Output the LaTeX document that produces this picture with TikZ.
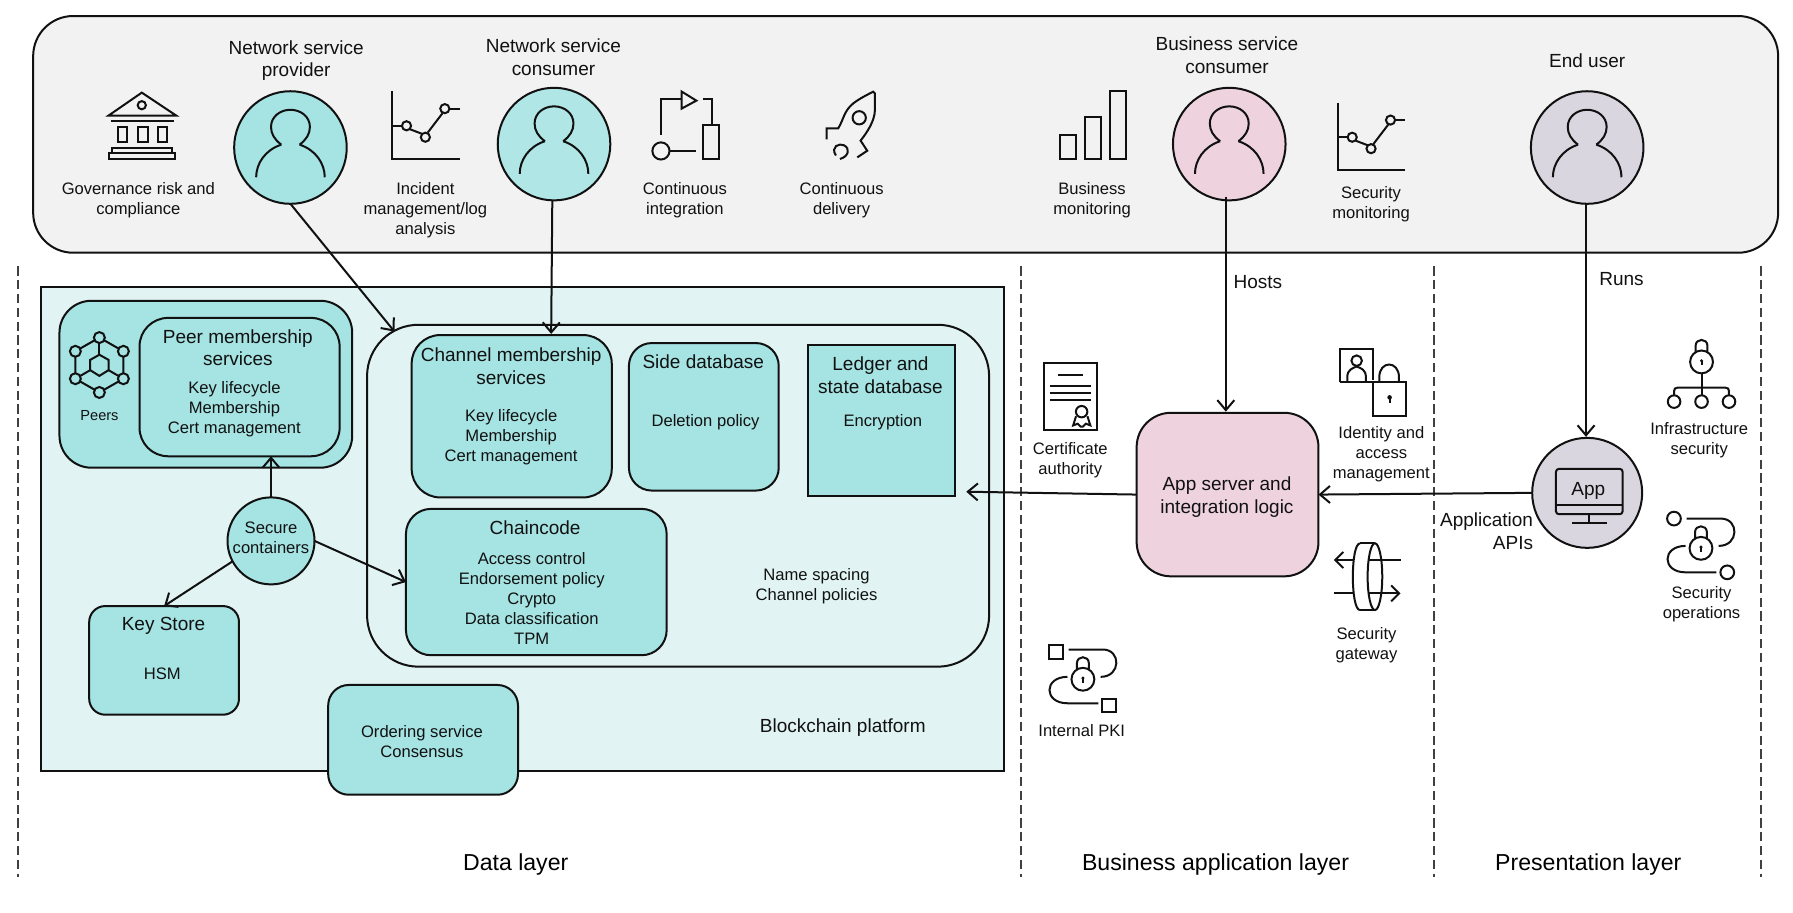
\documentclass[tikz,border=0pt]{standalone}
\usepackage{fontspec}
\setmainfont{Liberation Sans}
\usetikzlibrary{arrows.meta}
\definecolor{tealbox}{HTML}{A6E3E3}
\definecolor{tealmid}{HTML}{B0E6E6}
\definecolor{teallight}{HTML}{E1F4F3}
\definecolor{pinkbox}{HTML}{EED3DE}
\definecolor{mixbox}{HTML}{DAD6E0}
\definecolor{panelgray}{HTML}{F2F2F2}
\definecolor{inkc}{HTML}{111111}
\newcommand{\bx}[7]{%
  \pgfmathsetmacro\bcx{(#2+#4)/2}\pgfmathsetmacro\bcy{(#3+#5)/2}%
  \pgfmathsetmacro\bw{(#4-#2)*0.5718}\pgfmathsetmacro\bh{(#5-#3)*0.5718}%
  \pgfmathsetmacro\br{#6*0.5718}%
  \node[draw=inkc,line width=1pt,inner sep=0pt,outer sep=0pt,minimum width=\bw pt,minimum height=\bh pt,rounded corners=\br pt,#7] (#1) at (\bcx,\bcy) {};}
\newcommand{\personicon}[2]{%
  \begin{scope}[shift={(#1,#2)},icon]
    \draw (-8,-2.5) .. controls (-14,-7) and (-17,-12) .. (-17,-18) .. controls (-17,-27) and (-9,-33) .. (0,-33) .. controls (9,-33) and (17,-27) .. (17,-18) .. controls (17,-12) and (14,-7) .. (8,-2.5);
    \draw (8,-2.5) .. controls (22,2) and (30,14) .. (30,26);
    \draw (-8,-2.5) .. controls (-22,2) and (-30,14) .. (-30,26);
  \end{scope}}
\newcommand{\lockicon}[2]{%
  \begin{scope}[shift={(#1,#2)},icon]
    \draw (0,0) circle[radius=10];
    \draw (-5.2,-8.5) -- (-5.2,-14) .. controls (-5.2,-21) and (5.2,-21) .. (5.2,-14) -- (5.2,-8.5);
    \fill[inkc] (0,-1) circle[radius=1.5];
    \draw (0,-1) -- (0,3);
  \end{scope}}
\newcommand{\charticon}[2]{%
  \begin{scope}[shift={(#1,#2)},icon]
    \draw (343,80) -- (343,139) -- (402,139);
    \draw (343,110) -- (351.5,110);
    \draw (358.5,113) -- (369,117);
    \draw (374,116) -- (387,99);
    \draw (393,95) -- (402,95);
    \draw (355.5,110) circle[radius=4];
    \draw (372,120) circle[radius=4];
    \draw (389,95) circle[radius=4];
  \end{scope}}
\newcommand{\routeicon}[2]{%
  \begin{scope}[shift={(#1,#2)},icon]
    \draw (1475,453.5) -- (1505,453.5) .. controls (1521,453.5) and (1521,477.4) .. (1503,477.4);
    \draw (1474,477.4) .. controls (1453,477.4) and (1453,500.5) .. (1474,500.5) -- (1501,500.5);
  \end{scope}}
\tikzset{
  icon/.style={draw=inkc,line width=1pt},
  arr/.style={draw=inkc,line width=1pt,-{Straight Barb[length=5pt,width=8.5pt,line width=1pt]}},
  dashline/.style={draw=black!75,line width=1.1pt,dash pattern=on 4.6pt off 2.3pt},
  small/.style={align=center,inner sep=0pt,text=inkc,font=\fontsize{8.3}{10}\selectfont},
  big/.style={align=center,inner sep=0pt,text=inkc,font=\fontsize{9.5}{11.4}\selectfont},
  layer/.style={align=center,inner sep=0pt,text=black,font=\fontsize{11.55}{13}\selectfont},
  roundc/.style={circle,draw=inkc,line width=1pt,inner sep=0pt,outer sep=0pt,minimum size=56.3pt}
}
\begin{document}
\begin{tikzpicture}[x=0.5718pt,y=-0.5718pt]
\useasboundingbox (0,0) rectangle (1568,798);
% top panel
\bx{panel}{29}{14}{1555}{221}{35}{fill=panelgray}
% dashed
\coordinate (d1a) at (16,233); \coordinate (d1b) at (16,767);
\coordinate (d2a) at (893,233); \coordinate (d2b) at (893,767);
\coordinate (d3a) at (1254,233); \coordinate (d3b) at (1254,767);
\coordinate (d4a) at (1540,233); \coordinate (d4b) at (1540,767);
\draw[dashline] (d1a) -- (d1b);
\draw[dashline] (d2a) -- (d2b);
\draw[dashline] (d3a) -- (d3b);
\draw[dashline] (d4a) -- (d4b);
% persons
\node[roundc,fill=tealbox] (nsp) at (254,129) {};
\node[roundc,fill=tealmid] (nsc) at (484.5,126) {};
\node[roundc,fill=pinkbox] (bsc) at (1075,126) {};
\node[roundc,fill=mixbox] (eu) at (1388,129) {};
\personicon{254}{129}
\personicon{484.5}{126}
\personicon{1075}{126}
\personicon{1388}{129}
% platform
\bx{platform}{36}{251}{878}{674}{0}{fill=teallight}
\bx{peers}{52}{263}{308}{409}{28}{fill=tealbox}
\bx{peerms}{122}{278}{297}{399}{25}{fill=tealbox}
\bx{bigbox}{321}{284}{865}{583}{45}{fill=teallight}
\bx{channel}{360}{293}{535}{435}{25}{fill=tealbox}
\bx{sidedb}{550}{300}{681}{429}{20}{fill=tealbox}
\bx{ledger}{707}{302}{835}{434}{0}{fill=tealbox}
\bx{chaincode}{355}{445}{583}{573}{22}{fill=tealbox}
\bx{keystore}{78}{530}{209}{625}{14}{fill=tealbox}
\bx{ordering}{287}{599}{453}{695}{18}{fill=tealbox}
\node[roundc,fill=tealbox,minimum size=43.5pt] (sec) at (237,473) {};
\bx{appsrv}{994}{361}{1153}{504}{30}{fill=pinkbox}
\node[roundc,fill=mixbox,minimum size=55pt] (appc) at (1388,431) {};
% connectors
\coordinate (nspend) at (345,290);
\coordinate (nscend) at (482,292);
\coordinate (ledgerend) at (845,430);
\coordinate (bscend) at (1072,360);
\coordinate (euend) at (1387,382);
\coordinate (bscstart) at (1072,172);
\coordinate (eustart) at (1387,178);
\coordinate (nscstart) at (483,175);
\draw[arr] (nsp.south) -- (nspend);
\draw[arr] (nscstart) -- (nscend);
\draw[arr] (bscstart) -- (bscend);
\draw[arr] (eustart) -- (euend);
\draw[arr] (appc.west) -- (appsrv.east);
\draw[arr] (appsrv.west) -- (ledgerend);
\draw[arr] (sec.north) -- (peerms.south -| sec.north);
\draw[arr] (sec.208) -- (keystore.north);
\draw[arr] (sec.east) -- (chaincode.west);
% bank icon
\begin{scope}[icon]
  \draw (95,101) -- (124,81) -- (154,101) -- cycle;
  \draw (124,92) circle[radius=3.6];
  \draw (97,105.5) -- (152,105.5);
  \draw (103,111) rectangle (111,124.5);
  \draw (121,111) rectangle (129,124.5);
  \draw (138,111) rectangle (146,124.5);
  \draw (98,129) rectangle (150,134);
  \draw (95,134) rectangle (153,139);
\end{scope}
\charticon{0}{0}
\charticon{827}{10}
% CI icon
\begin{scope}[icon]
  \draw (578,118) -- (578,87) -- (596,87);
  \draw (596,80) -- (609,88) -- (596,95) -- cycle;
  \draw (614.6,87) -- (622.6,87) -- (622.6,109.5);
  \draw (614.6,109.5) rectangle (629,139);
  \draw (578,132) circle[radius=7.5];
  \draw (585.6,132) -- (609,132);
\end{scope}
% rocket
\begin{scope}[icon]
  \draw (722.9,121.9) -- (722.9,112.3) -- (733,112.3) .. controls (738,104) and (738,97) .. (746.2,90.4) .. controls (752,86) and (758,83) .. (763.7,80.2) -- (765.1,81.7) -- (765.1,96.2) .. controls (765,106) and (758,116) .. (752.6,123) -- (758.4,131.8) -- (749.7,137.6);
  \draw (751.4,103) circle[radius=5.8];
  \draw (731,136) .. controls (726,128) and (734,125) .. (738,127) .. controls (744,130) and (742,137) .. (734.5,139);
\end{scope}
% bars
\begin{scope}[icon]
  \draw (927,118) rectangle (941,139);
  \draw (949,102) rectangle (963,139);
  \draw (971,80) rectangle (985,139);
\end{scope}
% peers icon
\begin{scope}[shift={(86.9,319.2)},icon]
  \draw (0,-24) -- (-21,-12) -- (-21,12) -- (0,24) -- (21,12) -- (21,-12) -- cycle;
  \draw (0,-9) -- (-8,-4.5) -- (-8,4.5) -- (0,9.5) -- (8,4.5) -- (8,-4.5) -- cycle;
  \draw (0,-24) -- (0,-9);
  \draw (-8,4.5) -- (-21,12);
  \draw (8,4.5) -- (21,12);
  \foreach \px/\py in {0/-24,-21/-12,21/-12,-21/12,21/12,0/24}
    \draw[fill=tealbox] (\px,\py) circle[radius=4.8];
\end{scope}
% certificate
\begin{scope}[icon]
  \draw (912.7,317.8) rectangle (959,376);
  \draw (925.5,328.2) -- (946.7,328.2);
  \draw (918,337.3) -- (953.7,337.3);
  \draw (918,343.4) -- (953.7,343.4);
  \draw (918,349.5) -- (953.7,349.5);
  \draw (945.9,360) circle[radius=5];
  \draw (941,364) -- (938.5,372) -- (942.5,370.5) -- (945,373) -- (947,373) -- (949.5,370.5) -- (953.5,372) -- (951,364);
\end{scope}
% identity
\begin{scope}[icon]
  \draw (1171.8,334.4) -- (1171.8,305.2) -- (1201,305.2) -- (1201,332);
  \draw (1171.8,334.4) -- (1229.5,334.4) -- (1229.5,363.5) -- (1200.6,363.5) -- (1200.6,334.4);
  \draw (1206.2,334.4) -- (1206.2,330) .. controls (1206.2,315) and (1223.4,315) .. (1223.4,330) -- (1223.4,334.4);
  \draw (1186.4,315.4) circle[radius=4.6];
  \draw (1178.2,334.4) -- (1178.2,330) .. controls (1178.2,323) and (1183,322) .. (1186.4,320.5) .. controls (1190,322) and (1194.5,323) .. (1194.5,330) -- (1194.5,334.4);
  \fill[inkc] (1215.2,347.5) circle[radius=2];
  \draw (1215.2,347.5) -- (1215.2,352.5);
\end{scope}
% gateway
\begin{scope}[icon]
  \draw (1189.3,475.2) -- (1202.4,475.2);
  \draw (1189.3,533.5) -- (1202.4,533.5);
  \draw (1202.4,504.3) ellipse[x radius=6.4,y radius=29.2];
  \draw (1189.3,475.2) .. controls (1181,475.2) and (1181,533.5) .. (1189.3,533.5);
  \draw (1224.8,489.7) -- (1196.6,489.7);
  \draw[-{Straight Barb[length=4pt,width=8pt]}] (1182.9,489.7) -- (1166.5,489.7);
  \draw (1166.5,518.9) -- (1182.9,518.9);
  \draw[-{Straight Barb[length=4pt,width=8pt]}] (1196.6,518.9) -- (1224.8,518.9);
\end{scope}
% internal pki
\begin{scope}[icon]
  \draw (917,564) rectangle (930,576);
  \draw (964,611) rectangle (976,623);
\end{scope}
\routeicon{-540.5}{114.5}
\lockicon{947}{594}
% infrastructure security
\lockicon{1488}{316.5}
\begin{scope}[icon]
  \draw (1488,327) -- (1488,345.5);
  \draw (1464,345.5) -- (1464,342) .. controls (1464,340) and (1465,339) .. (1467,339) -- (1509,339) .. controls (1511,339) and (1512,340) .. (1512,342) -- (1512,345.5);
  \draw (1464,351.2) circle[radius=5.5];
  \draw (1488,351.2) circle[radius=5.5];
  \draw (1512,351.2) circle[radius=5.5];
\end{scope}
% security ops
\begin{scope}[icon]
  \draw (1463.9,453.5) circle[radius=6];
  \draw (1510.5,500.5) circle[radius=6];
\end{scope}
\routeicon{0}{0}
\lockicon{1487.5}{479.5}
% monitor
\begin{scope}[icon]
  \draw[rounded corners=1.5pt] (1360.7,410) rectangle (1419,449.7);
  \draw (1360.7,441.6) -- (1419,441.6);
  \draw (1389.8,449.7) -- (1389.8,457.6);
  \draw (1375,457.6) -- (1405,457.6);
\end{scope}
% labels
\node[big] (t1) at (259,53) {Network service\\provider};
\node[big] (t2) at (484,50) {Network service\\consumer};
\node[big] (t3) at (1073,48) {Business service\\consumer};
\node[big] (t4) at (1388,53) {End user};
\node[small] (t5) at (121,175) {Governance risk and\\compliance};
\node[small] (t6) at (372,184) {Incident\\management/log\\analysis};
\node[small] (t7) at (599,175) {Continuous\\integration};
\node[small] (t8) at (736,175) {Continuous\\delivery};
\node[small] (t9) at (955,175) {Business\\monitoring};
\node[small] (t10) at (1199,179) {Security\\monitoring};
\node[big] (t11) at (1100,247) {Hosts};
\node[big] (t12) at (1418,244) {Runs};
\node[small,font=\fontsize{7.3}{9}\selectfont] (t13) at (87,363) {Peers};
\node[big] (t14) at (208,304) {Peer membership\\services};
\node[small] (t15) at (205,358) {Key lifecycle\\Membership\\Cert management};
\node[big] (t16) at (447,320) {Channel membership\\services};
\node[small] (t17) at (447,382.5) {Key lifecycle\\Membership\\Cert management};
\node[big] (t18) at (615,316) {Side database};
\node[small] (t19) at (617,369) {Deletion policy};
\node[big] (t20) at (770,328) {Ledger and\\state database};
\node[small] (t21) at (772,369) {Encryption};
\node[big] (t22) at (468,461.5) {Chaincode};
\node[small] (t23) at (465,523.5) {Access control\\Endorsement policy\\Crypto\\Data classification\\TPM};
\node[small] (t24) at (714,512.5) {Name spacing\\Channel policies};
\node[small] (t25) at (237,470) {Secure\\containers};
\node[big] (t26) at (143,547) {Key Store};
\node[small] (t27) at (142,589) {HSM};
\node[small] (t28) at (369,648.5) {Ordering service\\Consensus};
\node[big] (t29) at (737,636) {Blockchain platform};
\node[big] (t30) at (1073,434.5) {App server and\\integration logic};
\node[small] (t31) at (936,402.5) {Certificate\\authority};
\node[small] (t32) at (1208,397.5) {Identity and\\access\\management};
\node[small] (t33) at (1195,564.5) {Security\\gateway};
\node[small] (t34) at (946,639) {Internal PKI};
\node[small] (t35) at (1486,385) {Infrastructure\\security};
\node[small] (t36) at (1488,528.5) {Security\\operations};
\node[big,align=right,anchor=east] (t37) at (1341,464.5) {Application\\APIs};
\node[big] (t38) at (1389,429) {App};
\node[layer] (t39) at (451,756) {Data layer};
\node[layer] (t40) at (1063,756) {Business application layer};
\node[layer] (t41) at (1389,756) {Presentation layer};
\end{tikzpicture}
\end{document}
